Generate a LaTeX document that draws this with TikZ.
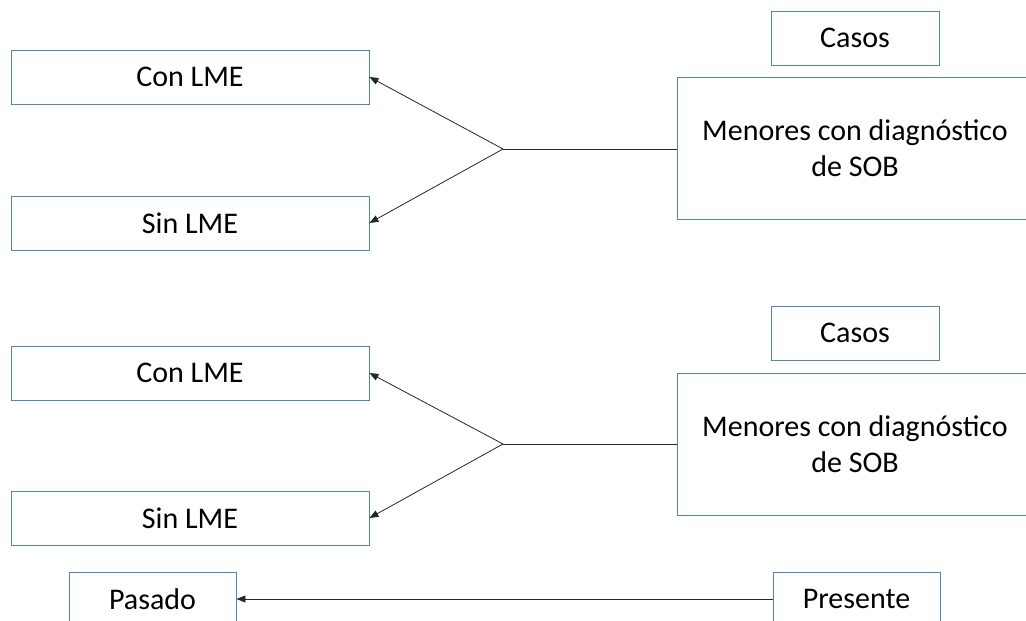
\documentclass[tikz,border=0pt]{standalone}
\usepackage{fontspec}
\setmainfont{Carlito}
\usetikzlibrary{arrows.meta}
\definecolor{boxblue}{RGB}{84,130,180}
\begin{document}
\begin{tikzpicture}[x=1pt,y=-1pt,
  box/.style={draw=boxblue, line width=0.9pt, inner sep=0pt, align=center,
    font=\fontsize{30}{36}\selectfont, text=black},
  lbox/.style={box, minimum width=358pt, minimum height=54pt},
  cbox/.style={box, minimum width=168pt, minimum height=54pt},
  mbox/.style={box, minimum width=356pt, minimum height=142pt},
  conn/.style={line width=0.8pt, black!85},
  arr/.style={conn, -{Triangle[length=9pt,width=7pt]}}]
\useasboundingbox (0,0) rectangle (1026,621);
\clip (0,0) rectangle (1026,621);
% upper group
\node[cbox] (casos1) at (855,38) {Casos};
\node[mbox] (men1) at (855,148) {Menores con diagnóstico\\de SOB};
\node[lbox] (con1) at (190,77) {Con LME};
\node[lbox] (sin1) at (190,223) {Sin LME};
\coordinate (j1) at (503,149);
\draw[conn] (men1.west |- j1) -- (j1);
\draw[arr] (j1) -- (con1.east);
\draw[arr] (j1) -- (sin1.east);
% lower group
\node[cbox] (casos2) at (855,333) {Casos};
\node[mbox] (men2) at (855,444.5) {Menores con diagnóstico\\de SOB};
\node[lbox] (con2) at (190,373) {Con LME};
\node[lbox] (sin2) at (190,518) {Sin LME};
\coordinate (j2) at (503,444);
\draw[conn] (men2.west |- j2) -- (j2);
\draw[arr] (j2) -- (con2.east);
\draw[arr] (j2) -- (sin2.east);
% time axis
\node[cbox, minimum width=167pt] (pasado) at (152.5,599) {Pasado};
\node[cbox, minimum width=167pt] (presente) at (856.5,599) {Presente};
\draw[arr] (presente.west) -- (pasado.east);
\end{tikzpicture}
\end{document}
